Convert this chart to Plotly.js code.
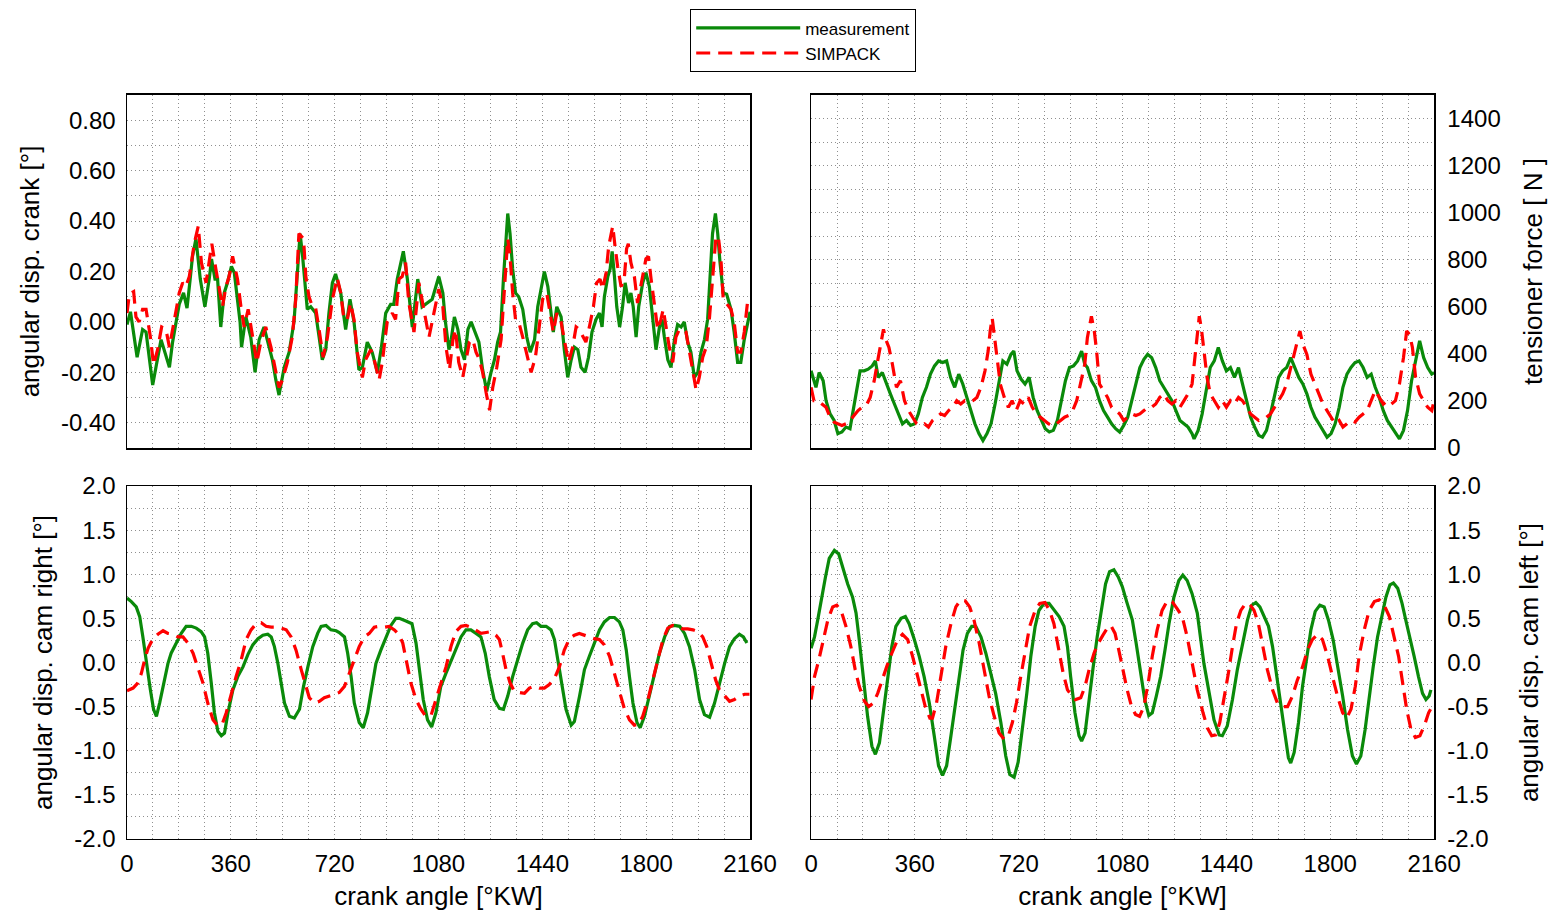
<!DOCTYPE html>
<html>
<head>
<meta charset="utf-8">
<script src="https://cdn.plot.ly/plotly-3.0.1.min.js"></script>
<style>html,body{margin:0;padding:0;background:#fff}#chart{width:1549px;height:916px}</style>
</head>
<body>
<div id="chart"></div>
<script>
// ---------- DATA ----------
const crankMeasX = [0,12,35,54,66,89,118,135,147,158,170,181,196,208,219,227,239,254,270,285,293,305,314,325,337,348,362,372,392,397,412,429,444,458,475,487,504,516,527,545,562,579,588,600,608,625,637,654,666,677,689,700,712,723,741,758,773,787,804,816,833,850,868,882,897,914,925,937,958,972,989,1008,1023,1040,1058,1081,1095,1104,1116,1124,1135,1147,1158,1170,1182,1193,1208,1220,1233,1247,1262,1274,1285,1295,1305,1314,1320,1328,1337,1347,1358,1372,1386,1398,1413,1424,1436,1447,1459,1471,1478,1490,1505,1516,1528,1540,1551,1563,1574,1588,1600,1612,1626,1638,1647,1655,1667,1675,1682,1690,1698,1708,1718,1727,1739,1747,1755,1765,1774,1788,1799,1811,1822,1834,1846,1855,1863,1875,1886,1898,1909,1921,1932,1944,1955,1967,1979,1990,2002,2013,2021,2030,2040,2048,2056,2067,2079,2094,2105,2117,2128,2140,2160];
const crankMeasY = [-0.01,0.04,-0.14,-0.03,-0.04,-0.25,-0.07,-0.14,-0.18,-0.08,0.0,0.07,0.115,0.055,0.17,0.26,0.33,0.17,0.06,0.17,0.25,0.17,0.17,-0.02,0.115,0.155,0.22,0.195,0.0,-0.1,0.02,-0.06,-0.2,-0.07,-0.02,-0.07,-0.15,-0.23,-0.29,-0.18,-0.12,0.0,0.17,0.35,0.27,0.05,0.06,0.035,-0.06,-0.15,-0.11,0.035,0.155,0.19,0.115,-0.03,0.09,0.0,-0.19,-0.18,-0.08,-0.12,-0.2,-0.1,0.035,0.07,0.07,0.17,0.28,0.17,-0.02,0.17,0.06,0.075,0.09,0.18,0.115,0.0,-0.11,-0.07,0.02,-0.03,-0.11,-0.15,-0.03,0.0,-0.04,-0.08,-0.19,-0.275,-0.2,-0.15,-0.08,-0.04,0.17,0.34,0.43,0.35,0.21,0.115,0.1,0.05,-0.06,-0.12,-0.07,0.06,0.14,0.2,0.14,0.01,-0.04,0.06,0.02,-0.11,-0.22,-0.15,-0.1,-0.11,-0.18,-0.2,-0.14,-0.04,0.01,0.035,-0.02,0.1,0.18,0.21,0.28,0.18,0.06,-0.02,0.06,0.155,0.075,0.115,0.06,-0.06,0.06,0.155,0.195,0.14,0.01,-0.11,-0.02,0.01,-0.06,-0.15,-0.18,-0.07,-0.01,-0.02,0.0,-0.08,-0.12,-0.22,-0.2,-0.12,-0.07,0.01,0.17,0.35,0.43,0.35,0.235,0.115,0.11,0.05,-0.04,-0.16,-0.16,-0.07,0.04];

const crankSimX = [0,8,23,31,42,54,66,81,92,106,120,135,147,164,181,193,204,216,233,247,258,274,285,294,308,320,331,343,354,366,383,395,406,420,435,450,464,481,499,516,527,539,556,573,585,596,612,620,631,643,654,666,680,695,712,729,741,752,764,775,787,798,816,827,845,859,874,885,902,920,931,943,954,966,977,995,1012,1029,1047,1064,1081,1095,1106,1118,1130,1139,1150,1164,1176,1187,1199,1210,1222,1233,1245,1257,1268,1282,1297,1309,1320,1328,1337,1347,1358,1372,1389,1401,1416,1427,1441,1455,1466,1478,1490,1505,1516,1531,1545,1557,1568,1580,1591,1603,1617,1628,1640,1649,1661,1670,1678,1684,1692,1701,1713,1724,1732,1738,1747,1759,1770,1782,1790,1799,1808,1817,1828,1840,1851,1859,1869,1880,1892,1903,1915,1927,1938,1950,1961,1973,1984,1996,2008,2019,2030,2042,2051,2059,2067,2079,2094,2105,2117,2128,2140,2151,2160];
const crankSimY = [0.035,0.11,0.12,0.02,0.0,0.05,0.05,-0.06,-0.17,-0.11,-0.02,-0.03,-0.1,0.0,0.115,0.155,0.14,0.18,0.31,0.38,0.235,0.155,0.235,0.31,0.21,0.14,0.06,0.14,0.18,0.26,0.17,0.06,-0.02,0.05,-0.06,-0.16,-0.08,-0.02,-0.1,-0.19,-0.26,-0.23,-0.16,-0.06,0.09,0.35,0.33,0.18,0.1,0.06,0.055,-0.03,-0.14,-0.06,0.09,0.175,0.115,0.01,0.01,0.075,0.01,-0.12,-0.22,-0.15,-0.11,-0.16,-0.23,-0.16,0.0,0.035,0.01,0.17,0.18,0.235,0.075,-0.04,0.155,0.05,-0.06,0.035,0.13,0.06,-0.1,-0.19,-0.07,-0.03,-0.16,-0.22,-0.15,-0.08,-0.07,-0.12,-0.15,-0.2,-0.28,-0.35,-0.26,-0.18,-0.07,0.13,0.33,0.26,0.115,0.01,0.0,-0.06,-0.15,-0.2,-0.14,-0.03,0.09,0.115,0.035,-0.04,0.035,0.0,-0.07,-0.16,-0.1,-0.02,-0.03,-0.06,-0.08,-0.02,0.06,0.155,0.17,0.13,0.195,0.3,0.34,0.38,0.3,0.22,0.14,0.17,0.29,0.31,0.235,0.18,0.075,0.14,0.195,0.25,0.26,0.17,0.075,-0.03,0.01,0.05,-0.02,-0.1,-0.16,-0.06,-0.03,-0.03,-0.04,-0.11,-0.19,-0.27,-0.22,-0.14,-0.1,0.01,0.18,0.34,0.33,0.25,0.09,0.07,0.05,0.0,-0.12,-0.12,-0.04,0.075,0.1];

const tensMeasX = [0,17,28,42,52,66,80,93,107,121,135,145,156,170,184,198,212,223,233,247,261,275,289,303,317,331,345,359,372,386,400,414,428,442,456,470,484,498,512,526,540,554,568,582,596,610,624,638,651,665,679,693,703,714,728,742,756,770,784,798,812,826,840,854,868,882,896,910,924,938,949,958,972,986,1000,1014,1028,1042,1056,1070,1084,1098,1112,1126,1140,1154,1167,1181,1195,1209,1223,1237,1251,1265,1279,1293,1307,1321,1328,1342,1356,1370,1384,1398,1412,1426,1440,1454,1468,1482,1496,1510,1524,1538,1552,1565,1579,1593,1607,1621,1635,1649,1663,1677,1691,1705,1719,1733,1747,1761,1775,1789,1803,1817,1831,1844,1858,1872,1886,1900,1914,1928,1942,1956,1970,1984,1998,2012,2026,2040,2054,2068,2082,2096,2110,2124,2138,2152,2160];
const tensMeasY = [328,258,321,286,201,145,117,61,68,89,82,145,230,328,328,335,349,370,300,321,272,230,187,145,103,117,96,103,145,215,258,314,349,370,363,370,300,258,314,272,215,159,103,61,32,61,103,187,272,370,356,398,412,328,293,272,300,215,159,117,82,68,75,117,201,286,342,349,370,412,356,342,286,258,201,159,131,103,82,68,96,131,201,272,342,377,398,384,342,286,258,230,201,159,117,103,89,61,39,75,145,244,342,370,427,370,328,342,300,342,272,201,131,89,54,46,75,145,230,300,328,342,384,342,300,272,230,173,131,103,75,46,61,103,173,258,314,342,363,370,342,300,314,258,215,159,117,89,61,39,75,159,286,370,455,384,342,314,320];

const tensSimX = [0,10,24,38,52,66,80,93,107,121,135,149,163,177,191,205,219,233,243,251,261,270,282,296,310,324,338,352,366,379,393,407,421,435,449,463,477,491,505,519,533,547,561,575,589,603,614,621,628,635,645,656,670,684,697,711,725,739,753,767,781,795,809,823,837,851,865,879,893,907,921,935,949,958,972,982,990,1000,1014,1028,1042,1056,1070,1084,1098,1112,1126,1140,1154,1167,1181,1195,1209,1223,1237,1251,1265,1279,1293,1307,1321,1331,1339,1346,1353,1363,1373,1384,1398,1412,1426,1440,1454,1468,1482,1496,1510,1524,1538,1552,1565,1579,1593,1607,1621,1635,1649,1663,1677,1688,1695,1705,1719,1733,1747,1761,1775,1789,1803,1817,1831,1844,1858,1872,1886,1900,1914,1928,1942,1956,1970,1984,1998,2012,2026,2040,2054,2065,2075,2085,2096,2110,2124,2138,2152,2160];
const tensSimY = [258,201,201,187,173,131,110,103,96,103,117,138,159,173,180,215,286,384,455,504,455,427,356,258,286,201,159,131,103,96,103,89,117,131,145,138,159,173,201,187,201,194,201,215,258,328,412,497,553,483,370,272,215,173,201,159,201,187,215,173,145,131,117,103,94,103,117,131,138,159,201,272,356,469,560,497,412,272,244,215,173,159,145,117,131,145,138,145,159,173,173,187,215,230,201,187,201,173,201,230,272,384,483,560,511,412,300,230,201,173,201,173,201,187,215,201,173,145,131,117,124,131,145,173,201,230,272,342,412,469,497,441,398,314,272,230,187,159,131,103,117,89,103,117,110,131,145,159,201,244,215,187,201,187,201,272,384,497,483,427,300,230,201,173,159,201];

const camRightMeasX = [0,15,32,44,55,67,81,92,102,113,127,142,153,171,188,205,223,240,257,269,280,292,303,315,327,338,350,367,384,402,419,436,454,471,488,500,511,523,534,546,563,580,598,612,627,644,661,673,690,707,725,736,754,765,777,788,805,819,834,849,863,880,898,915,932,944,967,988,1002,1013,1027,1042,1056,1071,1088,1106,1123,1140,1158,1175,1192,1210,1227,1242,1256,1273,1291,1305,1320,1337,1354,1372,1389,1406,1420,1435,1453,1470,1482,1493,1507,1522,1540,1551,1569,1586,1603,1621,1638,1655,1673,1690,1707,1719,1731,1742,1754,1768,1779,1794,1811,1829,1846,1864,1881,1898,1916,1933,1950,1968,1985,2002,2020,2037,2054,2072,2089,2106,2123,2137,2149];
const camRightMeasY = [0.73,0.69,0.63,0.52,0.29,-0.01,-0.31,-0.53,-0.61,-0.46,-0.23,-0.01,0.105,0.22,0.33,0.41,0.41,0.39,0.35,0.29,0.105,-0.23,-0.57,-0.78,-0.83,-0.8,-0.57,-0.31,-0.16,-0.05,0.09,0.2,0.27,0.31,0.32,0.29,0.18,-0.01,-0.23,-0.46,-0.61,-0.63,-0.53,-0.27,-0.05,0.18,0.33,0.41,0.42,0.37,0.36,0.34,0.29,0.105,-0.16,-0.46,-0.68,-0.74,-0.57,-0.27,-0.01,0.14,0.29,0.42,0.5,0.5,0.47,0.44,0.22,-0.08,-0.42,-0.65,-0.73,-0.57,-0.27,-0.12,0.01,0.16,0.29,0.37,0.37,0.33,0.29,0.105,-0.16,-0.42,-0.52,-0.53,-0.38,-0.16,0.03,0.22,0.37,0.44,0.45,0.41,0.41,0.37,0.26,0.03,-0.23,-0.53,-0.71,-0.67,-0.38,-0.08,0.07,0.22,0.37,0.46,0.51,0.51,0.46,0.37,0.14,-0.16,-0.46,-0.68,-0.74,-0.61,-0.38,-0.12,0.105,0.29,0.41,0.42,0.41,0.33,0.18,-0.08,-0.42,-0.59,-0.62,-0.46,-0.23,-0.01,0.18,0.27,0.32,0.29,0.22];

const camRightSimX = [0,21,38,50,61,73,90,107,125,142,159,177,194,211,229,246,263,280,298,315,330,344,361,378,396,413,430,448,465,482,500,517,534,552,569,586,604,619,632,650,667,684,702,719,736,754,771,788,805,823,840,857,875,892,909,927,944,956,969,984,1002,1019,1036,1054,1071,1088,1106,1123,1140,1158,1175,1192,1210,1227,1245,1262,1279,1291,1302,1314,1328,1343,1360,1378,1395,1412,1430,1447,1464,1482,1499,1516,1534,1551,1568,1586,1603,1620,1638,1655,1673,1690,1707,1724,1742,1759,1774,1788,1806,1823,1840,1858,1875,1892,1910,1927,1944,1962,1979,1996,2010,2025,2041,2054,2072,2089,2106,2123,2141,2158];
const camRightSimY = [-0.32,-0.29,-0.23,-0.12,0.03,0.16,0.27,0.32,0.36,0.33,0.32,0.29,0.29,0.22,0.105,-0.05,-0.23,-0.46,-0.65,-0.72,-0.7,-0.57,-0.35,-0.16,0.03,0.26,0.37,0.44,0.45,0.41,0.4,0.4,0.39,0.37,0.29,0.14,-0.08,-0.27,-0.4,-0.46,-0.44,-0.4,-0.38,-0.36,-0.34,-0.27,-0.12,0.03,0.18,0.29,0.33,0.4,0.41,0.4,0.41,0.37,0.31,0.22,-0.01,-0.23,-0.42,-0.53,-0.61,-0.6,-0.42,-0.23,-0.05,0.18,0.35,0.41,0.42,0.4,0.36,0.33,0.34,0.35,0.31,0.26,0.105,-0.08,-0.23,-0.33,-0.34,-0.35,-0.29,-0.27,-0.29,-0.29,-0.25,-0.18,-0.05,0.14,0.27,0.31,0.33,0.31,0.29,0.27,0.26,0.2,0.07,-0.12,-0.33,-0.52,-0.65,-0.71,-0.7,-0.61,-0.42,-0.2,0.03,0.26,0.39,0.42,0.41,0.38,0.38,0.37,0.35,0.29,0.18,-0.01,-0.2,-0.31,-0.38,-0.44,-0.42,-0.38,-0.36,-0.36];

const camLeftMeasX = [0,12,23,35,50,63,81,96,110,127,144,156,167,181,196,211,223,237,250,265,280,294,312,327,340,358,375,392,410,427,442,456,470,485,500,514,527,542,557,571,589,606,623,640,658,675,689,704,718,733,748,762,777,790,808,825,842,860,877,889,900,915,929,938,950,964,977,992,1007,1021,1035,1050,1065,1079,1096,1114,1127,1142,1157,1171,1183,1197,1212,1227,1241,1258,1275,1289,1304,1321,1339,1362,1380,1397,1415,1426,1443,1461,1478,1496,1513,1528,1542,1556,1571,1586,1600,1614,1629,1644,1655,1663,1675,1690,1704,1718,1733,1748,1764,1779,1794,1810,1825,1843,1860,1877,1891,1906,1921,1935,1949,1964,1979,1993,2007,2019,2034,2049,2062,2076,2091,2106,2120,2132,2143,2149];
const camLeftMeasY = [0.16,0.29,0.48,0.71,0.97,1.18,1.27,1.23,1.08,0.89,0.74,0.56,0.26,-0.16,-0.61,-0.95,-1.04,-0.91,-0.57,-0.16,0.18,0.41,0.5,0.52,0.44,0.26,0.07,-0.16,-0.46,-0.83,-1.17,-1.28,-1.17,-0.83,-0.46,-0.12,0.14,0.33,0.41,0.41,0.29,0.105,-0.12,-0.35,-0.68,-1.06,-1.27,-1.3,-1.13,-0.76,-0.35,0.07,0.41,0.59,0.67,0.67,0.59,0.52,0.41,0.18,-0.16,-0.57,-0.83,-0.89,-0.8,-0.46,-0.08,0.29,0.63,0.89,1.03,1.05,0.97,0.86,0.67,0.48,0.22,-0.08,-0.42,-0.6,-0.57,-0.38,-0.16,0.14,0.44,0.74,0.93,0.99,0.93,0.78,0.56,-0.01,-0.35,-0.65,-0.82,-0.83,-0.72,-0.42,-0.08,0.22,0.48,0.65,0.68,0.63,0.52,0.41,0.18,-0.16,-0.5,-0.83,-1.08,-1.14,-1.02,-0.68,-0.27,0.07,0.37,0.58,0.65,0.63,0.48,0.26,-0.01,-0.38,-0.76,-1.06,-1.15,-1.06,-0.76,-0.38,-0.05,0.29,0.52,0.74,0.88,0.9,0.84,0.67,0.48,0.29,0.07,-0.16,-0.35,-0.42,-0.38,-0.31];

const camLeftSimX = [0,12,27,40,58,75,89,104,121,138,153,167,185,200,216,231,246,262,280,300,317,335,352,366,381,396,412,421,435,450,467,485,502,519,534,550,565,583,600,617,635,652,669,684,698,712,727,742,758,777,793,811,827,842,857,874,889,904,917,935,950,964,981,996,1012,1027,1039,1054,1067,1081,1096,1111,1125,1139,1154,1169,1183,1200,1217,1235,1252,1269,1287,1304,1321,1339,1359,1374,1389,1403,1417,1432,1447,1461,1475,1490,1507,1521,1536,1551,1565,1582,1600,1617,1634,1652,1669,1686,1704,1721,1738,1756,1773,1791,1808,1825,1843,1857,1872,1887,1900,1918,1935,1953,1970,1987,2005,2022,2037,2051,2065,2080,2095,2111,2126,2141,2160];
const camLeftSimY = [-0.42,-0.16,0.03,0.22,0.48,0.63,0.65,0.59,0.41,0.18,-0.08,-0.27,-0.44,-0.5,-0.46,-0.35,-0.2,-0.05,0.105,0.26,0.32,0.26,0.07,-0.12,-0.31,-0.5,-0.63,-0.63,-0.46,-0.16,0.18,0.44,0.63,0.71,0.7,0.63,0.48,0.22,-0.08,-0.38,-0.61,-0.8,-0.87,-0.83,-0.68,-0.46,-0.16,0.14,0.41,0.59,0.67,0.68,0.59,0.44,0.18,-0.12,-0.31,-0.38,-0.42,-0.4,-0.27,-0.08,0.105,0.22,0.31,0.39,0.42,0.33,0.14,-0.08,-0.31,-0.5,-0.59,-0.61,-0.5,-0.23,0.07,0.37,0.59,0.7,0.69,0.61,0.52,0.29,-0.01,-0.31,-0.57,-0.74,-0.83,-0.82,-0.68,-0.42,-0.12,0.18,0.44,0.59,0.67,0.66,0.59,0.44,0.22,-0.08,-0.31,-0.46,-0.5,-0.5,-0.38,-0.2,-0.05,0.14,0.26,0.32,0.26,0.07,-0.16,-0.38,-0.57,-0.63,-0.53,-0.27,0.07,0.37,0.59,0.69,0.71,0.65,0.52,0.29,0.07,-0.23,-0.53,-0.76,-0.85,-0.83,-0.72,-0.57,-0.46];

// tick labels
const xTickVals = [0,360,720,1080,1440,1800,2160];
const xTickText = ['0','360','720','1080','1440','1800','2160'];
const crankTickVals = [-0.4,-0.2,0,0.2,0.4,0.6,0.8];
const crankTickText = ['-0.40','-0.20','0.00','0.20','0.40','0.60','0.80'];
const forceTickVals = [0,200,400,600,800,1000,1200,1400];
const forceTickText = ['0','200','400','600','800','1000','1200','1400'];
const camTickVals = [-2,-1.5,-1,-0.5,0,0.5,1,1.5,2];
const camTickText = ['-2.0','-1.5','-1.0','-0.5','0.0','0.5','1.0','1.5','2.0'];

const seriesNames = ['measurement','SIMPACK'];

// ---------- STYLE ----------
const GREEN = '#0a8a0a', RED = '#ff0000';
const FONT = 'Liberation Sans, Arial, Helvetica, sans-serif';
const gridColor = '#8f8f8f';
const greenLine = {color: GREEN, width: 3.2};
const redLine = {color: RED, width: 3.2, dash: '14px,8px'};

function tr(x, y, xa, ya, line, name, show) {
  return {x: x, y: y, xaxis: xa, yaxis: ya, type: 'scatter', mode: 'lines', line: line,
          name: name, showlegend: show, hoverinfo: 'skip'};
}

const data = [
  tr(crankMeasX, crankMeasY, 'x', 'y', greenLine, seriesNames[0], true),
  tr(crankSimX, crankSimY, 'x', 'y', redLine, seriesNames[1], true),
  tr(tensMeasX, tensMeasY, 'x2', 'y2', greenLine, seriesNames[0], false),
  tr(tensSimX, tensSimY, 'x2', 'y2', redLine, seriesNames[1], false),
  tr(camRightMeasX, camRightMeasY, 'x3', 'y3', greenLine, seriesNames[0], false),
  tr(camRightSimX, camRightSimY, 'x3', 'y3', redLine, seriesNames[1], false),
  tr(camLeftMeasX, camLeftMeasY, 'x4', 'y4', greenLine, seriesNames[0], false),
  tr(camLeftSimX, camLeftSimY, 'x4', 'y4', redLine, seriesNames[1], false)
];

const xL = [0.0820, 0.4842], xR = [0.5236, 0.9258];
const yT = [0.5109, 0.8963], yB = [0.0841, 0.4694];

function baseAxis(extra) {
  return Object.assign({
    showline: true, mirror: true, linecolor: '#000', linewidth: 1.5,
    showgrid: true, gridcolor: gridColor, griddash: '1px,3px', gridwidth: 1,
    zeroline: false, ticks: '', automargin: false, fixedrange: true,
    tickfont: {family: FONT, size: 24, color: '#000'}
  }, extra);
}
function xAxis(domain, anchor, showLabels) {
  return baseAxis({
    domain: domain, anchor: anchor, range: [0, 2160],
    tickmode: 'array', tickvals: xTickVals, ticktext: xTickText,
    showticklabels: showLabels, ticklabelstandoff: 3,
    minor: {tickmode: 'linear', tick0: 0, dtick: 90, showgrid: true, gridcolor: gridColor, griddash: '1px,3px', gridwidth: 1, ticks: ''},
    title: showLabels ? {text: 'crank angle [°KW]', font: {family: FONT, size: 26, color: '#000'}, standoff: 10} : {text: ''}
  });
}
function yAxis(domain, anchor, side, range, vals, text, dminor, title, labelStandoff, titleStandoff) {
  return baseAxis({
    domain: domain, anchor: anchor, side: side, range: range,
    tickmode: 'array', tickvals: vals, ticktext: text, ticklabelstandoff: labelStandoff,
    minor: {tickmode: 'linear', tick0: 0, dtick: dminor, showgrid: true, gridcolor: gridColor, griddash: '1px,3px', gridwidth: 1, ticks: ''},
    title: {text: title, font: {family: FONT, size: 26, color: '#000'}, standoff: titleStandoff}
  });
}

const layout = {
  width: 1549, height: 916,
  margin: {l: 0, r: 0, t: 0, b: 0},
  paper_bgcolor: '#fff', plot_bgcolor: '#fff',
  font: {family: FONT, color: '#000'},
  showlegend: true,
  legend: {
    x: 0.5184, y: 0.990, xanchor: 'center', yanchor: 'top',
    bordercolor: '#000', borderwidth: 1.2, bgcolor: '#fff',
    font: {family: FONT, size: 17, color: '#000'},
    itemwidth: 104, tracegroupgap: 0
  },
  xaxis: xAxis(xL, 'y', false),
  yaxis: yAxis(yT, 'x', 'left', [-0.5, 0.9], crankTickVals, crankTickText, 0.1, 'angular disp. crank [°]', 5, 14),
  xaxis2: xAxis(xR, 'y2', false),
  yaxis2: yAxis(yT, 'x2', 'right', [0, 1500], forceTickVals, forceTickText, 100, 'tensioner force [ N ]', 7, 24),
  xaxis3: xAxis(xL, 'y3', true),
  yaxis3: yAxis(yB, 'x3', 'left', [-2, 2], camTickVals, camTickText, 0.25, 'angular disp. cam right [°]', 5, 14),
  xaxis4: xAxis(xR, 'y4', true),
  yaxis4: yAxis(yB, 'x4', 'right', [-2, 2], camTickVals, camTickText, 0.25, 'angular disp. cam left [°]', 7, 32)
};

Plotly.newPlot('chart', data, layout, {staticPlot: true, displayModeBar: false});
</script>
</body>
</html>
